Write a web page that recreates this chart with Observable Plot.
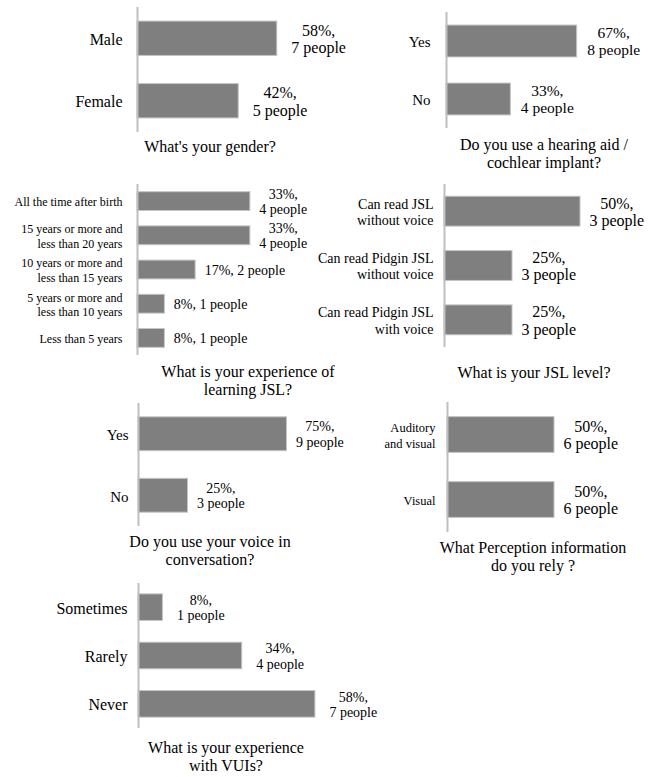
<!DOCTYPE html>
<html>
<head>
<meta charset="utf-8">
<script src="https://cdn.jsdelivr.net/npm/d3@7"></script>
<script src="https://cdn.jsdelivr.net/npm/@observablehq/plot@0.6"></script>
<style>
  html, body { margin: 0; padding: 0; background: #fff; }
  #chart { position: relative; width: 652px; height: 777px; background: #fff; overflow: hidden; }
  .panel { position: absolute; }
  .title { position: absolute; width: 320px; text-align: center; font-family: "Liberation Serif", "DejaVu Serif", serif; font-size: 16px; line-height: 18px; color: #000; white-space: pre; }
</style>
</head>
<body>
<div id="chart"></div>
<script>
// ---- Data ----
const genderCats = ["Male", "Female"];
const genderPct = [58, 42];
const genderN = [7, 5];

const hearingCats = ["Yes", "No"];
const hearingPct = [67, 33];
const hearingN = [8, 4];

const jslExpCats = [
  "All the time after birth",
  "15 years or more and\nless than 20 years",
  "10 years or more and\nless than 15 years",
  "5 years or more and\nless than 10 years",
  "Less than 5 years"
];
const jslExpPct = [33, 33, 17, 8, 8];
const jslExpN = [4, 4, 2, 1, 1];

const jslLevelCats = [
  "Can read JSL\nwithout voice",
  "Can read Pidgin JSL\nwithout voice",
  "Can read Pidgin JSL\nwith voice"
];
const jslLevelPct = [50, 25, 25];
const jslLevelN = [3, 3, 3];

const voiceCats = ["Yes", "No"];
const voicePct = [75, 25];
const voiceN = [9, 3];

const perceptionCats = ["Auditory\nand visual", "Visual"];
const perceptionPct = [50, 50];
const perceptionN = [6, 6];

const vuiCats = ["Sometimes", "Rarely", "Never"];
const vuiPct = [8, 34, 58];
const vuiN = [1, 4, 7];

const titles = [
  "What's your gender?",
  "Do you use a hearing aid /\ncochlear implant?",
  "What is your experience of\nlearning JSL?",
  "What is your JSL level?",
  "Do you use your voice in\nconversation?",
  "What Perception information\ndo you rely ?",
  "What is your experience\nwith VUIs?"
];

// ---- Layout (positions / styles only) ----
const layouts = [
  {x0: 0,   y0: 0,   axisX: 137, top: 7,   bottom: 132, k: 2.41, labelFs: 16,   labelGap: 15, labelLH: 1.2,  valueFs: 16,   valueGap: 14, tcx: 210, ty: 147, single: []},
  {x0: 326, y0: 0,   axisX: 446, top: 12,  bottom: 128, k: 1.95, labelFs: 15,   labelGap: 16, labelLH: 1.2,  valueFs: 15.5, valueGap: 10, tcx: 544, ty: 145, single: []},
  {x0: 0,   y0: 180, axisX: 137, top: 184, bottom: 355, k: 3.42, labelFs: 12,   labelGap: 15, labelLH: 1.25, valueFs: 14,   valueGap: 9,  tcx: 248, ty: 372, single: [2, 3, 4]},
  {x0: 326, y0: 180, axisX: 444, top: 184, bottom: 347, k: 2.72, labelFs: 14,   labelGap: 11, labelLH: 1.15, valueFs: 16,   valueGap: 9,  tcx: 534, ty: 373, single: []},
  {x0: 0,   y0: 390, axisX: 138, top: 403, bottom: 526, k: 1.98, labelFs: 15,   labelGap: 10, labelLH: 1.2,  valueFs: 14,   valueGap: 9,  tcx: 210, ty: 542, single: []},
  {x0: 326, y0: 390, axisX: 447, top: 402, bottom: 532, k: 2.14, labelFs: 12.5, labelGap: 12, labelLH: 1.25, valueFs: 16,   valueGap: 9,  tcx: 533, ty: 548, single: []},
  {x0: 0,   y0: 580, axisX: 138, top: 583, bottom: 728, k: 3.05, labelFs: 16,   labelGap: 11, labelLH: 1.2,  valueFs: 14,   valueGap: 14, tcx: 226, ty: 748, single: []}
];

const series = [
  [genderCats, genderPct, genderN],
  [hearingCats, hearingPct, hearingN],
  [jslExpCats, jslExpPct, jslExpN],
  [jslLevelCats, jslLevelPct, jslLevelN],
  [voiceCats, voicePct, voiceN],
  [perceptionCats, perceptionPct, perceptionN],
  [vuiCats, vuiPct, vuiN]
];

const FONT = '"Liberation Serif", "DejaVu Serif", serif';
const chart = document.getElementById("chart");

series.forEach(([cats, pct, n], idx) => {
  const cfg = layouts[idx];
  const data = cats.map((c, i) => ({
    cat: c,
    pct: pct[i],
    n: n[i],
    single: cfg.single.includes(i)
  }));
  data.forEach(d => {
    d.label = d.single ? `${d.pct}%, ${d.n} people` : `${d.pct}%,\n${d.n} people`;
  });
  const ml = cfg.axisX - cfg.x0;
  const mt = cfg.top - cfg.y0;
  const mb = 6;
  const h = cfg.bottom - cfg.y0 + mb;

  const plot = Plot.plot({
    width: 326,
    height: h,
    marginTop: mt,
    marginBottom: mb,
    marginLeft: ml,
    marginRight: 0,
    x: {domain: [0, 100], range: [ml, ml + 100 * cfg.k], axis: null},
    y: {domain: cats, paddingInner: 0.45, paddingOuter: 0.225, round: false, axis: null},
    style: {fontFamily: FONT, background: "transparent", color: "#000", overflow: "visible"},
    marks: [
      Plot.barX(data, {x: "pct", y: "cat", fill: "#7f7f7f", stroke: "#c4c4c4", strokeWidth: 1}),
      Plot.ruleX([0], {stroke: "#bfbfbf", strokeWidth: 2}),
      Plot.text(data, {x: 0, y: "cat", text: "cat", textAnchor: "end", dx: -cfg.labelGap,
        fontSize: cfg.labelFs, fontFamily: FONT, lineHeight: cfg.labelLH, fill: "#000"}),
      Plot.text(data.filter(d => !d.single), {x: "pct", y: "cat", text: "label", textAnchor: "middle",
        dx: cfg.valueGap + 1.708 * cfg.valueFs, fontSize: cfg.valueFs, fontFamily: FONT, lineHeight: 1.1, fill: "#000"}),
      Plot.text(data.filter(d => d.single), {x: "pct", y: "cat", text: "label", textAnchor: "start",
        dx: cfg.valueGap, fontSize: cfg.valueFs, fontFamily: FONT, lineHeight: 1.1, fill: "#000"})
    ]
  });
  const wrap = document.createElement("div");
  wrap.className = "panel";
  wrap.style.left = cfg.x0 + "px";
  wrap.style.top = cfg.y0 + "px";
  wrap.appendChild(plot);
  chart.appendChild(wrap);

  const t = document.createElement("div");
  t.className = "title";
  t.textContent = titles[idx];
  t.style.left = (cfg.tcx - 160) + "px";
  t.style.top = (cfg.ty - 9) + "px";
  chart.appendChild(t);
});
</script>
</body>
</html>
